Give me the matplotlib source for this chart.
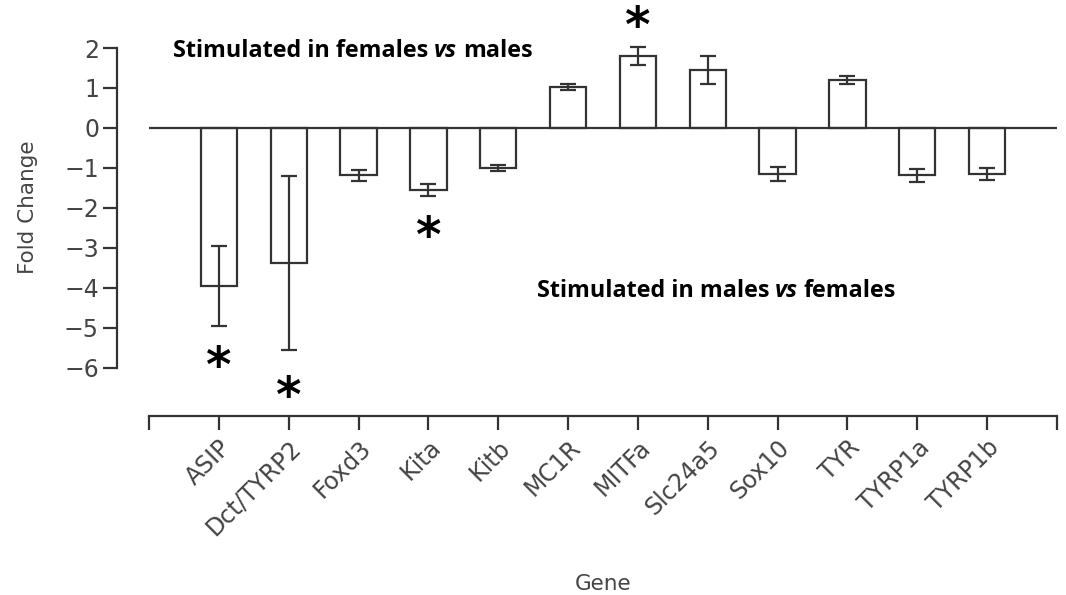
import matplotlib
matplotlib.use("Agg")
from matplotlib import pyplot as plt

genes = ["ASIP", "Dct/TYRP2", "Foxd3", "Kita", "Kitb", "MC1R", "MITFa",
         "Slc24a5", "Sox10", "TYR", "TYRP1a", "TYRP1b"]
fold = [-3.95, -3.37, -1.18, -1.55, -1.0, 1.02, 1.8, 1.45, -1.15, 1.2, -1.18, -1.15]
err = [1.0, 2.17, 0.14, 0.15, 0.08, 0.08, 0.22, 0.36, 0.17, 0.09, 0.16, 0.15]
# asterisks: gene index and y position
star_idx = [0, 1, 3, 6]
star_y = [-6.0, -6.75, -2.75, 2.5]

col = "#333333"
lw = 1.6
plt.rcParams['font.family'] = ['DejaVu Sans']

fig = plt.figure(figsize=(10.66, 5.95), dpi=100)
ax = fig.add_axes([149/1066, (595-416)/595, 908/1066, (416-12)/595])

xs = list(range(1, len(genes)+1))
ax.bar(xs, fold, width=0.52, color="white", edgecolor=col, linewidth=lw, zorder=2)
ax.errorbar(xs, fold, yerr=err, fmt="none", ecolor=col, elinewidth=lw,
            capsize=6, capthick=lw, zorder=3)
ax.axhline(0, color=col, linewidth=lw, zorder=4)

for i, y in zip(star_idx, star_y):
    ax.text(xs[i], y, "*", fontsize=35, fontweight="bold", ha="center",
            va="center", color="black")

ax.set_xlim(0, 13)
ax.set_ylim(-7.2, 2.9)
for s in ["top", "right"]:
    ax.spines[s].set_visible(False)
ax.spines["left"].set_position(("outward", 23))
ax.spines["left"].set_bounds(-6, 2)
ax.spines["bottom"].set_bounds(0, 13)
for s in ["left", "bottom"]:
    ax.spines[s].set_color(col)
    ax.spines[s].set_linewidth(lw)

ax.set_yticks(range(-6, 3))
ax.set_yticklabels([str(v).replace("-", "\u2212") for v in range(-6, 3)])
ax.set_xticks([0] + xs + [13])
ax.set_xticklabels([""] + genes + [""], rotation=45, ha="right",
                   rotation_mode="anchor")
ax.tick_params(axis="both", length=10, width=lw, color=col, labelsize=17,
               labelcolor="#444444")
ax.tick_params(axis="y", pad=3)
ax.tick_params(axis="x", pad=4)

ax.set_ylabel("Fold Change", fontsize=15.5, color="#444444")
ax.yaxis.set_label_coords(-0.122, 0.517)
ax.set_xlabel("Gene", fontsize=15.5, color="#444444", va="center")
ax.xaxis.set_label_coords(0.5, -0.415)


def label(x, y, pre, post):
    t1 = ax.text(x, y, pre, fontsize=16.8, fontweight="bold", family="Open Sans",
                 va="baseline", ha="left")
    t2 = ax.annotate("vs", xy=(1, 0), xycoords=t1, xytext=(4, 0),
                     textcoords="offset points", fontsize=16.8, fontweight="bold",
                     style="italic", family="Open Sans", va="bottom", ha="left")
    ax.annotate(post, xy=(1, 0), xycoords=t2, xytext=(4, 0),
                textcoords="offset points", fontsize=16.8, fontweight="bold",
                family="Open Sans", va="bottom", ha="left")


label(0.35, 1.78, "Stimulated in females", "males")
label(5.55, -4.23, "Stimulated in males", "females")

fig.savefig("out.png", dpi=100)
